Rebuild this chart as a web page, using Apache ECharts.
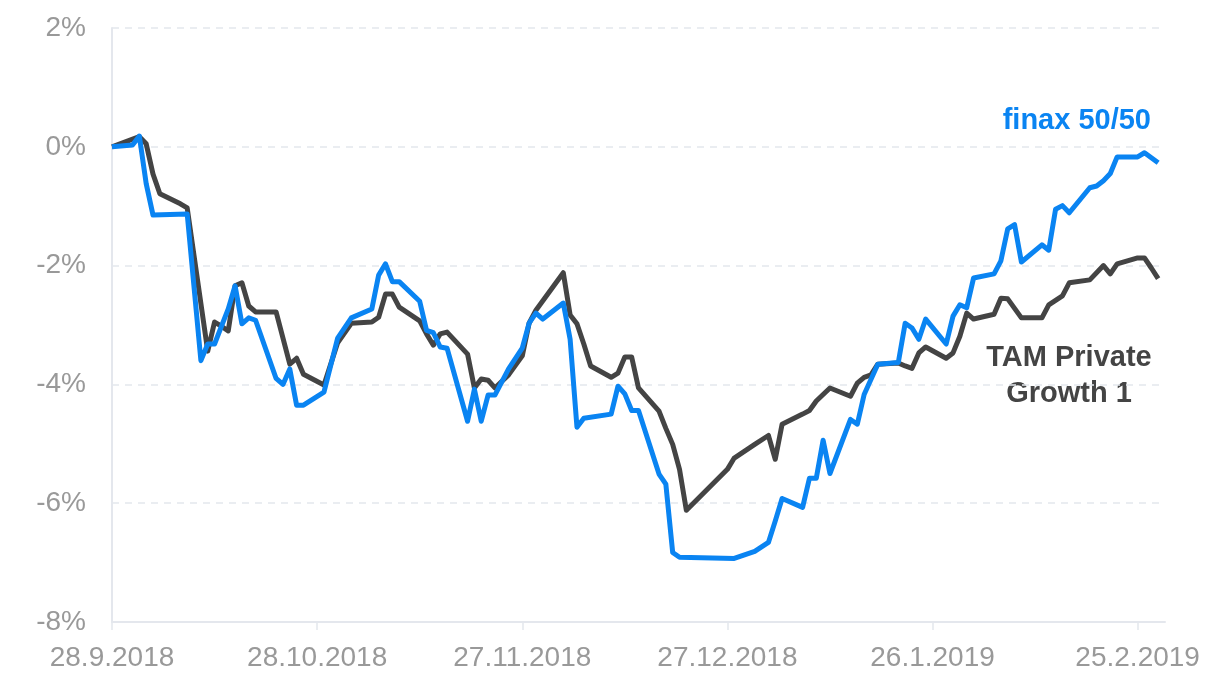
<!DOCTYPE html>
<html>
<head>
<meta charset="utf-8">
<script src="https://cdn.jsdelivr.net/npm/echarts@6/dist/echarts.min.js"></script>
<style>
  html, body { margin: 0; padding: 0; background: #fff; }
  #main { width: 1217px; height: 687px; }
</style>
</head>
<body>
<div id="main"></div>
<script>
// dates of the points (business days), values in %
var startDate = '2018-09-28';
var tickLabels = ['28.9.2018', '28.10.2018', '27.11.2018', '27.12.2018', '26.1.2019', '25.2.2019'];
var yTicks = ['-8%', '-6%', '-4%', '-2%', '0%', '2%'];

var finaxDates = [
  '2018-09-28','2018-10-01','2018-10-02','2018-10-03','2018-10-04','2018-10-09','2018-10-11','2018-10-12',
  '2018-10-13','2018-10-15','2018-10-16','2018-10-17','2018-10-18','2018-10-19','2018-10-22','2018-10-23',
  '2018-10-24','2018-10-25','2018-10-26','2018-10-29','2018-10-31','2018-11-02','2018-11-05','2018-11-06',
  '2018-11-07','2018-11-08','2018-11-09','2018-11-12','2018-11-13','2018-11-14','2018-11-15','2018-11-16',
  '2018-11-19','2018-11-20','2018-11-21','2018-11-22','2018-11-23','2018-11-25','2018-11-27','2018-11-28',
  '2018-11-29','2018-11-30','2018-12-03','2018-12-04','2018-12-05','2018-12-06','2018-12-10','2018-12-11',
  '2018-12-12','2018-12-13','2018-12-14','2018-12-17','2018-12-18','2018-12-19','2018-12-20','2018-12-28',
  '2018-12-31','2019-01-02','2019-01-03','2019-01-04','2019-01-07','2019-01-08','2019-01-09','2019-01-10',
  '2019-01-11','2019-01-14','2019-01-15','2019-01-16','2019-01-18','2019-01-21','2019-01-22','2019-01-23',
  '2019-01-24','2019-01-25','2019-01-28','2019-01-29','2019-01-30','2019-01-31','2019-02-01','2019-02-04',
  '2019-02-05','2019-02-06','2019-02-07','2019-02-08','2019-02-11','2019-02-12','2019-02-13','2019-02-14',
  '2019-02-15','2019-02-18','2019-02-19','2019-02-20','2019-02-21','2019-02-22','2019-02-25','2019-02-26',
  '2019-02-28'
];
var finaxValues = [
  0, 0.03, 0.18, -0.62, -1.15, -1.13, -3.6, -3.32,
  -3.32, -2.73, -2.34, -2.98, -2.88, -2.92, -3.9, -4.0,
  -3.74, -4.35, -4.35, -4.13, -3.22, -2.88, -2.73, -2.16,
  -1.97, -2.27, -2.27, -2.6, -3.09, -3.13, -3.37, -3.39,
  -4.62, -4.08, -4.62, -4.18, -4.18, -3.74, -3.39, -2.97,
  -2.8, -2.9, -2.63, -3.24, -4.72, -4.57, -4.5, -4.03,
  -4.16, -4.44, -4.44, -5.51, -5.68, -6.83, -6.91, -6.93,
  -6.81, -6.66, -6.3, -5.92, -6.07, -5.58, -5.58, -4.94,
  -5.5, -4.59, -4.67, -4.17, -3.66, -3.63, -2.97, -3.05,
  -3.24, -2.9, -3.32, -2.85, -2.66, -2.71, -2.21, -2.14,
  -1.92, -1.38, -1.31, -1.94, -1.65, -1.74, -1.05, -0.99,
  -1.11, -0.69, -0.66, -0.57, -0.45, -0.17, -0.17, -0.1,
  -0.27
];

var tamDates = [
  '2018-09-28','2018-10-02','2018-10-03','2018-10-04','2018-10-05','2018-10-08','2018-10-09','2018-10-12',
  '2018-10-13','2018-10-14','2018-10-15','2018-10-16','2018-10-17','2018-10-18','2018-10-19','2018-10-22',
  '2018-10-24','2018-10-25','2018-10-26','2018-10-29','2018-10-31','2018-11-02','2018-11-05','2018-11-06',
  '2018-11-07','2018-11-08','2018-11-09','2018-11-12','2018-11-13','2018-11-14','2018-11-15','2018-11-16',
  '2018-11-19','2018-11-20','2018-11-21','2018-11-22','2018-11-23','2018-11-25','2018-11-27','2018-11-28',
  '2018-11-29','2018-12-03','2018-12-04','2018-12-05','2018-12-06','2018-12-07','2018-12-10','2018-12-11',
  '2018-12-12','2018-12-13','2018-12-14','2018-12-17','2018-12-18','2018-12-19','2018-12-20','2018-12-21',
  '2018-12-27','2018-12-28','2018-12-31','2019-01-02','2019-01-03','2019-01-04','2019-01-07','2019-01-08',
  '2019-01-09','2019-01-11','2019-01-14','2019-01-15','2019-01-16','2019-01-17','2019-01-18','2019-01-21',
  '2019-01-22','2019-01-23','2019-01-24','2019-01-25','2019-01-28','2019-01-29','2019-01-30','2019-01-31',
  '2019-02-01','2019-02-04','2019-02-05','2019-02-06','2019-02-08','2019-02-11','2019-02-12','2019-02-14',
  '2019-02-15','2019-02-18','2019-02-20','2019-02-21','2019-02-22','2019-02-25','2019-02-26','2019-02-27',
  '2019-02-28'
];
var tamValues = [
  0, 0.17, 0.05, -0.46, -0.79, -0.96, -1.03, -3.44,
  -2.95, -3.02, -3.1, -2.34, -2.29, -2.68, -2.78, -2.78,
  -3.66, -3.56, -3.83, -4.01, -3.3, -2.97, -2.95, -2.87,
  -2.48, -2.48, -2.7, -2.93, -3.15, -3.34, -3.15, -3.12,
  -3.49, -4.06, -3.91, -3.93, -4.06, -3.84, -3.52, -2.97,
  -2.75, -2.12, -2.83, -2.98, -3.32, -3.69, -3.88, -3.81,
  -3.54, -3.54, -4.06, -4.45, -4.74, -5.01, -5.43, -6.12,
  -5.43, -5.24, -5.01, -4.86, -5.26, -4.67, -4.5, -4.44,
  -4.28, -4.06, -4.2, -3.98, -3.88, -3.84, -3.66, -3.64,
  -3.69, -3.73, -3.47, -3.37, -3.56, -3.47, -3.19, -2.8,
  -2.9, -2.82, -2.55, -2.56, -2.88, -2.88, -2.66, -2.51,
  -2.29, -2.24, -2.0, -2.14, -1.97, -1.87, -1.87, -2.04,
  -2.22
];

var DAY = 86400000;
function dayOf(s) {
  var p = s.split('-');
  return Date.UTC(+p[0], +p[1] - 1, +p[2]);
}
var t0 = dayOf(startDate);
function toPoints(dates, values) {
  return dates.map(function (d, i) {
    return [(dayOf(d) - t0) / DAY, values[i]];
  });
}

var labelFont = '"Liberation Sans", "Helvetica Neue", Arial, sans-serif';
var chart = echarts.init(document.getElementById('main'));
chart.setOption({
  animation: false,
  backgroundColor: '#ffffff',
  grid: { left: 112, right: 52, top: 28, bottom: 65 },
  xAxis: {
    type: 'value',
    min: 0,
    max: 154,
    interval: 30,
    axisLine: { show: true, onZero: false, lineStyle: { color: '#e4e7ed', width: 2 } },
    axisTick: { show: true, length: 8, lineStyle: { color: '#e4e7ed', width: 1.5 } },
    splitLine: { show: false },
    axisLabel: {
      color: '#999999',
      fontSize: 28,
      fontFamily: labelFont,
      margin: 22,
      showMaxLabel: false,
      formatter: function (v) {
        var i = Math.round(v / 30);
        return tickLabels[i] || '';
      }
    }
  },
  yAxis: {
    type: 'value',
    min: -8,
    max: 2,
    interval: 2,
    axisLine: { show: true, lineStyle: { color: '#e4e7ed', width: 2 } },
    axisTick: { show: false },
    splitLine: { show: true, lineStyle: { color: '#e4e7ed', type: [7, 6], width: 1.5 } },
    axisLabel: {
      color: '#999999',
      fontSize: 28,
      fontFamily: labelFont,
      margin: 26,
      formatter: function (v) {
        return yTicks[Math.round((v + 8) / 2)];
      }
    }
  },
  series: [
    {
      name: 'TAM Private Growth 1',
      type: 'line',
      data: toPoints(tamDates, tamValues),
      showSymbol: false,
      lineStyle: { color: '#444444', width: 5, join: 'round' },
      z: 2
    },
    {
      name: 'finax 50/50',
      type: 'line',
      data: toPoints(finaxDates, finaxValues),
      showSymbol: false,
      lineStyle: { color: '#0a84f2', width: 5, join: 'round' },
      z: 3
    }
  ],
  graphic: [
    {
      type: 'text', x: 1151, y: 106,
      style: { text: 'finax 50/50', fill: '#0a84f2', font: 'bold 29px ' + labelFont, align: 'right' }
    },
    {
      type: 'text', x: 1069, y: 340,
      style: {
        text: 'TAM Private\nGrowth 1', fill: '#444444', font: 'bold 29px ' + labelFont,
        align: 'center', lineHeight: 36
      }
    }
  ]
});
</script>
</body>
</html>
